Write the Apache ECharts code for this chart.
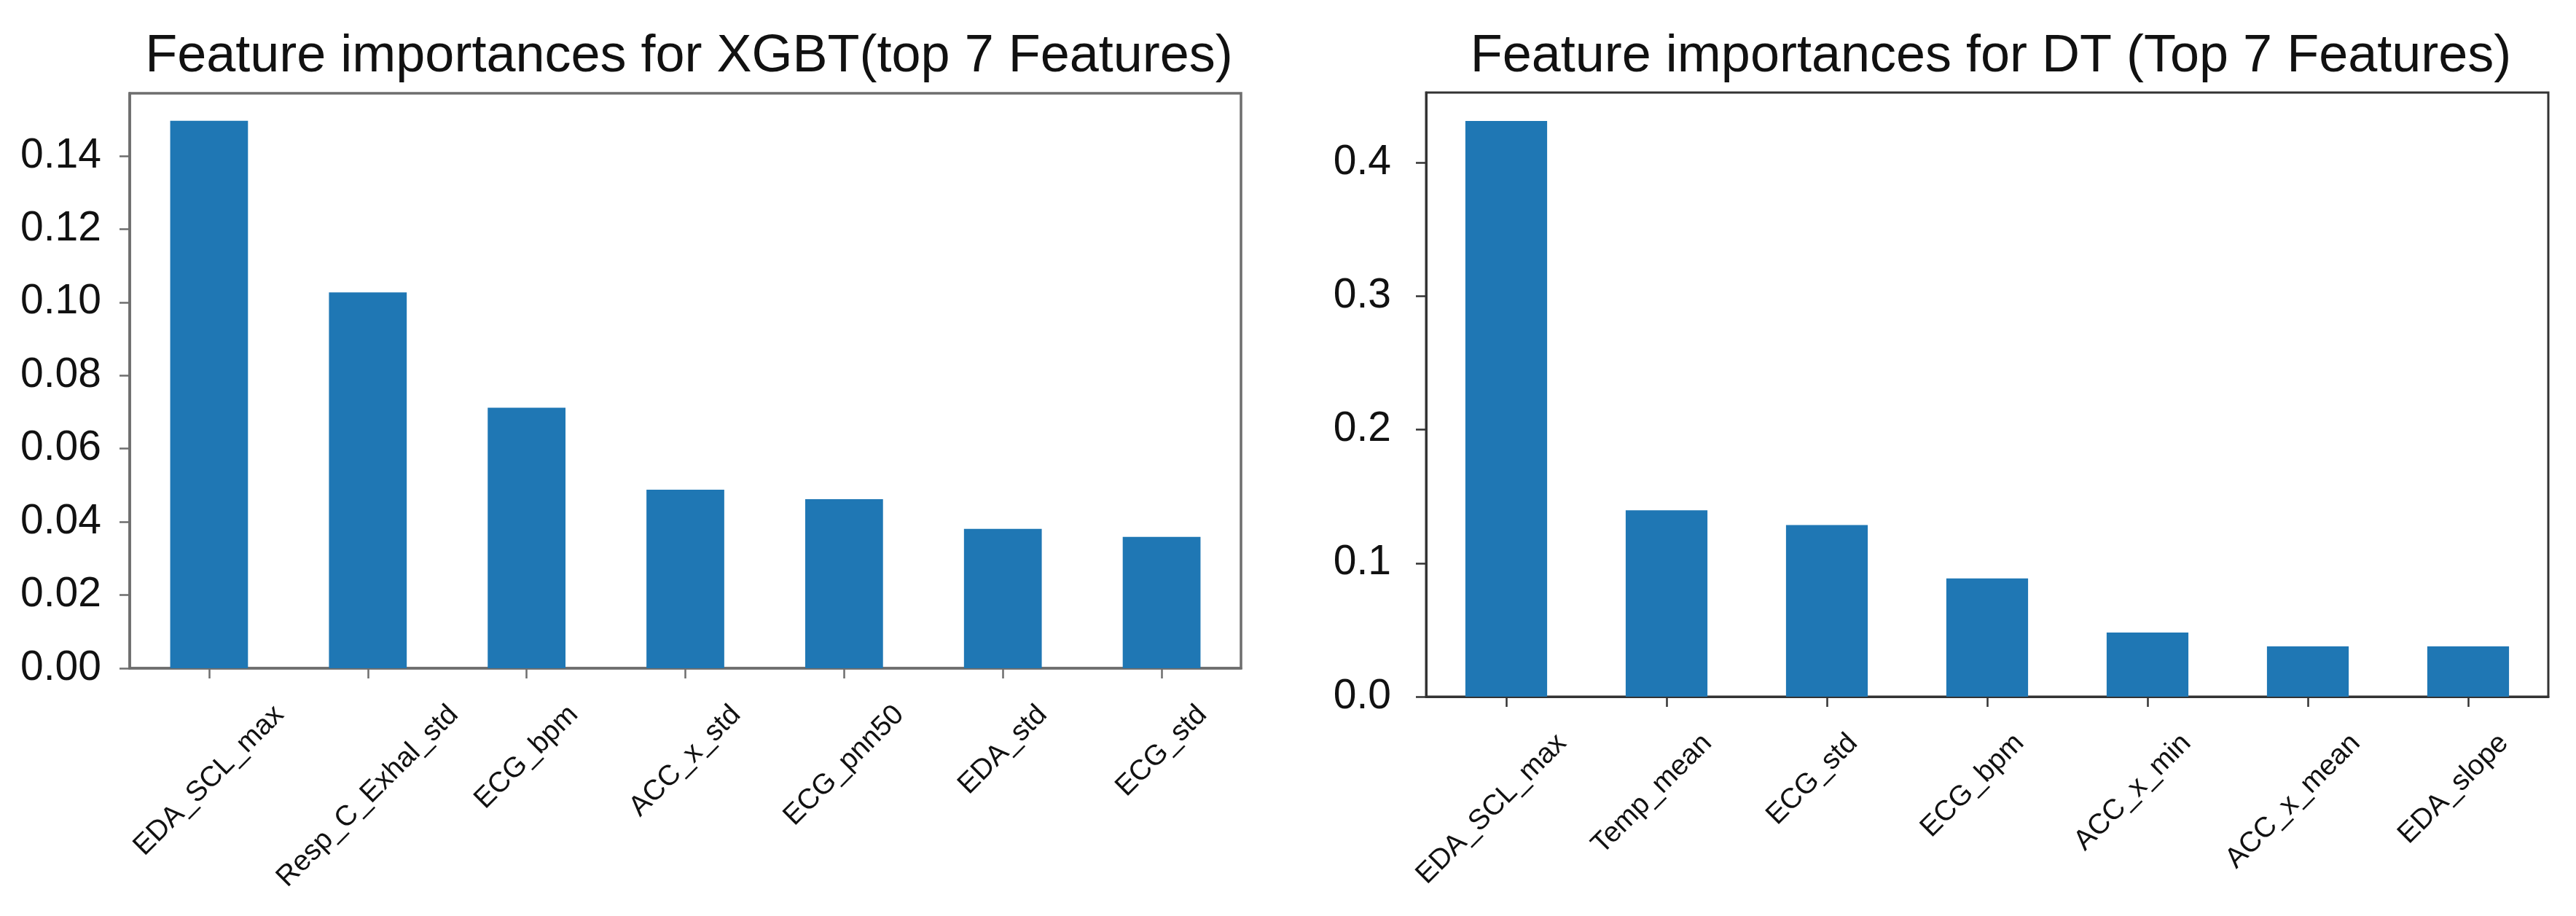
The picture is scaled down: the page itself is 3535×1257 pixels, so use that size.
<!DOCTYPE html>
<html>
<head>
<meta charset="utf-8">
<script src="https://cdn.jsdelivr.net/npm/echarts@6/dist/echarts.min.js"></script>
<style>
html,body{margin:0;padding:0;background:#fff;}
#chart{width:3535px;height:1257px;}
</style>
</head>
<body>
<div id="chart"></div>
<script>
// ---- data ----
const xgbCategories = ['EDA_SCL_max','Resp_C_Exhal_std','ECG_bpm','ACC_x_std','ECG_pnn50','EDA_std','ECG_std'];
const xgbValues = [0.1496, 0.1027, 0.0712, 0.0488, 0.0462, 0.0381, 0.0359];
const xgbTicks = [0.00, 0.02, 0.04, 0.06, 0.08, 0.10, 0.12, 0.14];
const xgbTitle = 'Feature importances for XGBT(top 7 Features)';

const dtCategories = ['EDA_SCL_max','Temp_mean','ECG_std','ECG_bpm','ACC_x_min','ACC_x_mean','EDA_slope'];
const dtValues = [0.4311, 0.1395, 0.1285, 0.0885, 0.0480, 0.0377, 0.0377];
const dtTicks = [0.0, 0.1, 0.2, 0.3, 0.4];
const dtTitle = 'Feature importances for DT (Top 7 Features)';

// ---- styling / layout ----
const FAMILY = '"Liberation Sans", Arial, sans-serif';
const BLUE = '#1f77b4';
const fsX = 39;
const XFONT = fsX + 'px ' + FAMILY;

const grids = [
  { left: 178, top: 128, width: 1525, height: 789, color: '#6e6e6e', bw: 3.5, max: 0.1571, ticks: xgbTicks, dec: 2, margin: 39, off: 44, dx: 0 },
  { left: 1957, top: 127, width: 1540, height: 829, color: '#333333', bw: 3, max: 0.4524, ticks: dtTicks, dec: 1, margin: 48, off: 44, dx: -20 }
];

const option = {
  backgroundColor: '#ffffff',
  animation: false,
  title: [
    { text: xgbTitle, left: grids[0].left + grids[0].width / 2, top: 37, textAlign: 'center',
      textStyle: { fontFamily: FAMILY, fontSize: 72, fontWeight: 'normal', color: '#111' } },
    { text: dtTitle, left: grids[1].left + grids[1].width / 2, top: 37, textAlign: 'center',
      textStyle: { fontFamily: FAMILY, fontSize: 72, fontWeight: 'normal', color: '#111' } }
  ],
  grid: grids.map(g => ({ left: g.left, top: g.top, width: g.width, height: g.height,
    show: true, borderColor: g.color, borderWidth: g.bw, backgroundColor: '#fff', containLabel: false })),
  xAxis: [xgbCategories, dtCategories].map((cats, i) => ({
    type: 'category', gridIndex: i, data: cats,
    axisLine: { show: true, lineStyle: { color: grids[i].color, width: grids[i].bw } },
    axisTick: { show: true, alignWithLabel: true, length: 14, lineStyle: { color: grids[i].color, width: 2.5 } },
    axisLabel: { show: false },
    splitLine: { show: false }
  })),
  yAxis: grids.map((g, i) => ({
    type: 'value', gridIndex: i, min: 0, max: g.max,
    axisLine: { show: true, lineStyle: { color: g.color, width: g.bw } },
    axisTick: { show: true, length: 14, customValues: g.ticks, lineStyle: { color: g.color, width: 2.5 } },
    axisLabel: { customValues: g.ticks, margin: g.margin, fontFamily: FAMILY, fontSize: 57, color: '#111',
      padding: [0, 0, 10, 0],
      formatter: v => v.toFixed(g.dec) },
    splitLine: { show: false }
  })),
  series: [
    { type: 'bar', xAxisIndex: 0, yAxisIndex: 0, data: xgbValues, barWidth: '49%', itemStyle: { color: BLUE } },
    { type: 'bar', xAxisIndex: 1, yAxisIndex: 1, data: dtValues, barWidth: '51%', itemStyle: { color: BLUE } }
  ]
};

const chart = echarts.init(document.getElementById('chart'), null, { renderer: 'canvas' });
chart.setOption(option);

// rotated category labels, centred under each tick (matplotlib style)
const ctx = document.createElement('canvas').getContext('2d');
ctx.font = XFONT;
const labelEls = [];
[xgbCategories, dtCategories].forEach((cats, gi) => {
  const g = grids[gi];
  cats.forEach((c, i) => {
    const p = chart.convertToPixel({ xAxisIndex: gi, yAxisIndex: gi }, [i, 0]);
    const L = ctx.measureText(c).width;
    const cy = p[1] + g.off + (L + fsX) / (2 * Math.SQRT2);
    labelEls.push({
      type: 'text', x: p[0] + g.dx, y: cy, rotation: Math.PI / 4, silent: true,
      style: { text: c, font: XFONT, fill: '#111', textAlign: 'center', textVerticalAlign: 'middle' }
    });
  });
});
chart.setOption({ graphic: labelEls });
</script>
</body>
</html>
